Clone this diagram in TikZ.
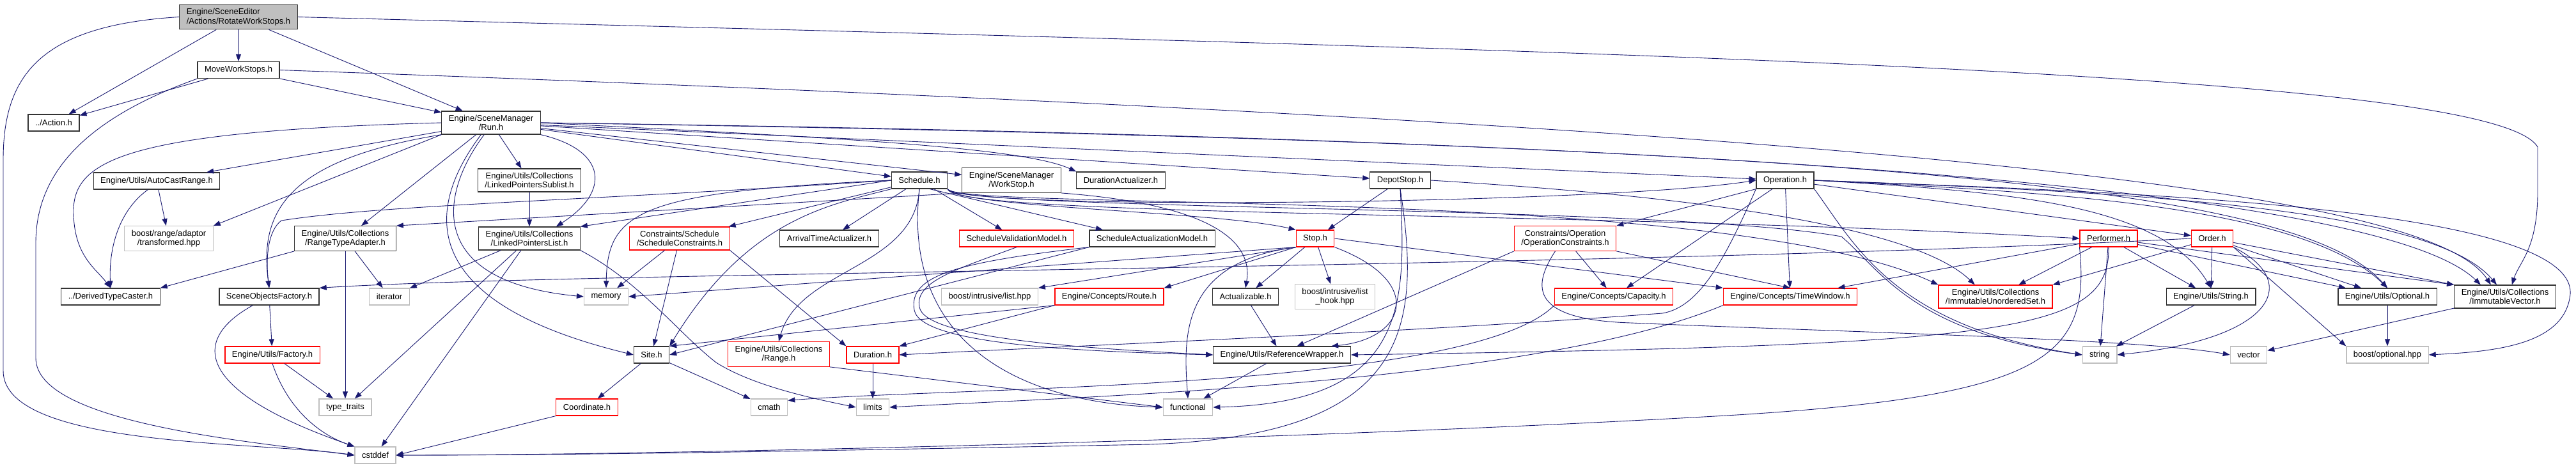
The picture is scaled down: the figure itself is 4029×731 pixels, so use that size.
\documentclass[tikz,border=0pt]{standalone}
\usepackage{fontspec}
\setmainfont{Liberation Sans}
\usepackage{xcolor}
\usepackage{tikz}
\usetikzlibrary{arrows.meta}
\definecolor{edgecol}{HTML}{191970}
\definecolor{extgray}{HTML}{BFBFBF}

\begin{document}
\begin{tikzpicture}[x=1pt, y=-1pt,
  hfile/.style={draw=black!80, line width=1.2pt, fill=white, minimum height=26pt, inner xsep=11pt, inner ysep=6pt, align=center, font=\fontsize{13}{14.5}\selectfont},
  extfile/.style={hfile, draw=extgray},
  redfile/.style={hfile, draw=red},
  rootfile/.style={hfile, fill=extgray, align=left},
  arr/.style={-{Triangle[length=11pt,width=8pt]}, line width=0.9pt, edgecol}
]
  \useasboundingbox (0,0) rectangle (4029,731);

  \node[rootfile] (root) at (373,26.5) {Engine/SceneEditor\\/Actions/RotateWorkStops.h};
  \node[hfile] (move) at (373,109.5) {MoveWorkStops.h};
  \node[hfile] (action) at (84,192) {../Action.h};
  \node[hfile] (run) at (768,192) {Engine/SceneManager\\/Run.h};

  \node[hfile] (autocast) at (245,283) {Engine/Utils/AutoCastRange.h};
  \node[hfile] (sublist) at (828,282) {Engine/Utils/Collections\\/LinkedPointersSublist.h};
  \node[hfile] (sched) at (1438,282) {Schedule.h};
  \node[hfile] (workstop) at (1582,282) {Engine/SceneManager\\/WorkStop.h};
  \node[hfile] (duract) at (1753,282) {DurationActualizer.h};
  \node[hfile] (depot) at (2190,282) {DepotStop.h};
  \node[hfile] (oper) at (2792,282) {Operation.h};

  \node[extfile] (transformed) at (264,373) {boost/range/adaptor\\/transformed.hpp};
  \node[hfile] (rangeadapt) at (540,373) {Engine/Utils/Collections\\/RangeTypeAdapter.h};
  \node[hfile] (ptrlist) at (828,373) {Engine/Utils/Collections\\/LinkedPointersList.h};
  \node[redfile] (schedcons) at (1063,373) {Constraints/Schedule\\/ScheduleConstraints.h};
  \node[hfile] (arrival) at (1297,373) {ArrivalTimeActualizer.h};
  \node[redfile] (validation) at (1590,373) {ScheduleValidationModel.h};
  \node[hfile] (actmodel) at (1802,373) {ScheduleActualizationModel.h};
  \node[redfile] (stop) at (2057,373) {Stop.h};
  \node[redfile] (opcons) at (2448,373) {Constraints/Operation\\/OperationConstraints.h};
  \node[redfile] (performer) at (3298,373) {Performer.h};
  \node[redfile] (order) at (3460,373) {Order.h};

  \node[hfile] (caster) at (173,464) {../DerivedTypeCaster.h};
  \node[hfile] (sofactory) at (421,464) {SceneObjectsFactory.h};
  \node[extfile] (iterator) at (609,464) {iterator};
  \node[extfile] (memory) at (948,464) {memory};
  \node[extfile] (listhpp) at (1548,464) {boost/intrusive/list.hpp};
  \node[redfile] (route) at (1735,464) {Engine/Concepts/Route.h};
  \node[hfile] (actualizable) at (1948,464) {Actualizable.h};
  \node[extfile] (listhook) at (2088,464) {boost/intrusive/list\\\_hook.hpp};
  \node[redfile] (capacity) at (2524,464) {Engine/Concepts/Capacity.h};
  \node[redfile] (timewin) at (2800,464) {Engine/Concepts/TimeWindow.h};
  \node[redfile] (uset) at (3121,464) {Engine/Utils/Collections\\/ImmutableUnorderedSet.h};
  \node[hfile] (strh) at (3458,464) {Engine/Utils/String.h};
  \node[hfile] (optional) at (3734,464) {Engine/Utils/Optional.h};
  \node[hfile] (ivector) at (3918,464) {Engine/Utils/Collections\\/ImmutableVector.h};

  \node[redfile] (factory) at (426,555) {Engine/Utils/Factory.h};
  \node[hfile] (site) at (1019,555) {Site.h};
  \node[redfile] (range) at (1218,554) {Engine/Utils/Collections\\/Range.h};
  \node[redfile] (duration) at (1365,555) {Duration.h};
  \node[hfile] (refwrap) at (2005,555) {Engine/Utils/ReferenceWrapper.h};
  \node[extfile] (string) at (3284,555) {string};
  \node[extfile] (vector) at (3517,555) {vector};
  \node[extfile] (boostopt) at (3734,555) {boost/optional.hpp};

  \node[extfile] (traits) at (540,637) {type\_traits};
  \node[redfile] (coord) at (918,637) {Coordinate.h};
  \node[extfile] (cmath) at (1203,637) {cmath};
  \node[extfile] (limits) at (1365,637) {limits};
  \node[extfile] (functional) at (1858,637) {functional};

  \node[extfile] (cstddef) at (587,712) {cstddef};

  \draw[arr] (root) -- (action);
  \draw[arr] (root) -- (move);
  \draw[arr] (root) -- (run);
  \draw[arr] (root.west) .. controls (60,40) and (5,120) .. (5,250) -- (5,580) .. controls (5,700) and (400,690) .. (cstddef.west);
  \draw[arr] (root.east) .. controls (2500,80) and (3900,110) .. (3969,230) -- (3969,300) .. controls (3969,390) and (3940,410) .. (ivector.60);

  \draw[arr] (move) -- (action);
  \draw[arr] (move) -- (run);
  \draw[arr] (move.south west) .. controls (150,180) and (56,260) .. (56,380) -- (56,560) .. controls (56,660) and (380,690) .. (cstddef.west);
  \draw[arr] (move.east) .. controls (3000,200) and (3800,300) .. (ivector.140);

  \draw[arr] (run) -- (autocast);
  \draw[arr] (run.south west) -- (transformed.north east);
  \draw[arr] (run.west) .. controls (200,205) and (115,250) .. (115,330) .. controls (115,400) and (150,420) .. (caster.north);
  \draw[arr] (run) -- (rangeadapt);
  \draw[arr] (run.south west) .. controls (450,250) and (405,330) .. (sofactory.north);
  \draw[arr] (run) -- (sublist);
  \draw[arr] (run.south east) .. controls (950,235) and (955,300) .. (ptrlist.24);
  \draw[arr] (run.240) .. controls (690,300) and (660,440) .. (memory.west);
  \draw[arr] (run.230) .. controls (670,320) and (640,470) .. (site.west);
  \draw[arr] (run) -- (sched);
  \draw[arr] (run) -- (workstop);
  \draw[arr] (run.east) .. controls (1300,215) and (1600,230) .. (duract.north west);
  \draw[arr] (run) -- (depot);
  \draw[arr] (run) -- (oper);
  \draw[arr] (run.east) .. controls (3000,220) and (3750,320) .. (ivector.154);
  \draw[arr] (run.east) .. controls (3000,225) and (3600,300) .. (optional.north);

  \draw[arr] (autocast) -- (transformed);
  \draw[arr] (autocast.225) .. controls (185,330) and (170,390) .. (caster.north);
  \draw[arr] (sublist) -- (ptrlist);
  \draw[arr] (ptrlist) -- (iterator);
  \draw[arr] (ptrlist) -- (traits);
  \draw[arr] (ptrlist) -- (cstddef);
  \draw[arr] (ptrlist.south east) .. controls (1000,440) and (1060,520) .. (1120,567) .. controls (1180,605) and (1280,625) .. (limits.west);
  \draw[arr] (rangeadapt.south west) -- (caster.north east);
  \draw[arr] (rangeadapt) -- (traits);
  \draw[arr] (rangeadapt) -- (iterator);

  \draw[arr] (sched.west) -- (ptrlist.north east);
  \draw[arr] (sched.west) .. controls (900,315) and (600,320) .. (440,345) .. controls (420,360) and (415,400) .. (sofactory.north);
  \draw[arr] (sched) -- (schedcons);
  \draw[arr] (sched) -- (arrival);
  \draw[arr] (sched) -- (validation);
  \draw[arr] (sched.320) -- (actmodel.170);
  \draw[arr] (sched.west) .. controls (1000,300) and (950,330) .. (memory.north);
  \draw[arr] (sched.south west) .. controls (1300,320) and (1170,340) .. (site.north east);
  \draw[arr] (sched.south) .. controls (1430,420) and (1250,420) .. (range.north);
  \draw[arr] (sched.south) .. controls (1410,540) and (1600,630) .. (functional.west);
  \draw[arr] (sched.south east) .. controls (1500,325) and (1900,330) .. (stop.north west);
  \draw[arr] (sched.south east) .. controls (1500,330) and (2500,320) .. (oper.west);
  \draw[arr] (sched.south east) .. controls (1490,340) and (2500,330) .. (performer.west);
  \draw[arr] (sched.south east) .. controls (1500,330) and (2700,290) .. (uset.north west);
  \draw[arr] (sched.south east) .. controls (1500,330) and (2600,320) .. (2880,370) .. controls (2940,420) and (2990,520) .. (string.west);

  \draw[arr] (workstop.south west) -- (rangeadapt.north east);
  \draw[arr] (workstop.south east) .. controls (1900,320) and (1960,380) .. (actualizable.north);

  \draw[arr] (depot) -- (stop);
  \draw[arr] (depot.south) .. controls (2200,480) and (2200,630) .. (functional.east);
  \draw[arr] (depot.south) .. controls (2225,520) and (2200,680) .. (1800,695) .. controls (1300,705) and (900,712) .. (cstddef.east);
  \draw[arr] (depot.east) .. controls (2700,310) and (3000,360) .. (uset.150);

  \draw[arr] (oper.south west) -- (opcons.north east);
  \draw[arr] (oper) -- (capacity);
  \draw[arr] (oper) -- (timewin);
  \draw[arr] (oper) -- (order);
  \draw[arr] (oper.south west) .. controls (2700,400) and (2660,480) .. (2600,490) .. controls (2200,520) and (1700,540) .. (duration.east);
  \draw[arr] (oper.south east) .. controls (2900,380) and (2960,510) .. (string.west);
  \draw[arr] (oper.east) .. controls (3150,300) and (3380,320) .. (strh.north);
  \draw[arr] (oper.east) .. controls (3200,300) and (3600,320) .. (optional.north);
  \draw[arr] (oper.east) .. controls (3300,300) and (3800,320) .. (ivector.125);
  \draw[arr] (oper.east) .. controls (3300,300) and (4029,320) .. (4020,460) .. controls (4012,540) and (3900,550) .. (boostopt.east);

  \draw[arr] (schedcons) -- (memory);
  \draw[arr] (schedcons) -- (site);
  \draw[arr] (schedcons.south east) -- (duration.north west);
  \draw[arr] (validation.south) .. controls (1500,420) and (1430,440) .. (1438,480) .. controls (1445,530) and (1700,545) .. (refwrap.west);
  \draw[arr] (actmodel.south west) .. controls (1500,410) and (1420,430) .. (1430,485) .. controls (1440,540) and (1700,550) .. (refwrap.west);
  \draw[arr] (actmodel.south west) -- (site.east);

  \draw[arr] (stop) -- (actualizable);
  \draw[arr] (stop) -- (listhook);
  \draw[arr] (stop.south west) -- (route.north east);
  \draw[arr] (stop.south west) -- (listhpp.north east);
  \draw[arr] (stop.south west) -- (memory.east);
  \draw[arr] (stop.east) -- (timewin.north west);
  \draw[arr] (stop.south east) .. controls (2230,440) and (2200,530) .. (refwrap.10);
  \draw[arr] (stop.south west) .. controls (1850,410) and (1850,520) .. (functional.north);

  \draw[arr] (opcons) -- (capacity);
  \draw[arr] (opcons.south west) -- (refwrap.30);
  \draw[arr] (opcons.south east) -- (timewin.north);
  \draw[arr] (opcons.232) .. controls (2395,450) and (2395,500) .. (2550,505) .. controls (2900,520) and (3350,530) .. (vector.west);

  \draw[arr] (performer) -- (timewin);
  \draw[arr] (performer) -- (uset);
  \draw[arr] (performer) -- (strh);
  \draw[arr] (performer) -- (optional);
  \draw[arr] (performer) -- (ivector.north west);
  \draw[arr] (performer) -- (string);
  \draw[arr] (performer.south) .. controls (3300,520) and (3150,540) .. (refwrap.east);
  \draw[arr] (performer.south west) .. controls (3270,560) and (3200,620) .. (2700,650) .. controls (2000,690) and (1000,712) .. (cstddef.east);

  \draw[arr] (order) -- (strh);
  \draw[arr] (order) -- (optional);
  \draw[arr] (order) -- (ivector.north west);
  \draw[arr] (order) -- (uset.north east);
  \draw[arr] (order.south east) -- (boostopt.north west);
  \draw[arr] (order.south east) .. controls (3600,440) and (3560,530) .. (string.east);
  \draw[arr] (order.west) .. controls (2500,420) and (900,425) .. (sofactory.north east);

  \draw[arr] (route.south west) -- (site.north east);
  \draw[arr] (route.south west) -- (duration.north east);
  \draw[arr] (actualizable) -- (refwrap);
  \draw[arr] (capacity.south west) .. controls (2300,610) and (1500,605) .. (cmath.20);
  \draw[arr] (timewin.south west) .. controls (2400,600) and (1700,620) .. (limits.east);
  \draw[arr] (strh) -- (string);
  \draw[arr] (optional) -- (boostopt);
  \draw[arr] (ivector) -- (vector);

  \draw[arr] (sofactory) -- (factory);
  \draw[arr] (sofactory.208) .. controls (300,530) and (300,610) .. (cstddef.north west);
  \draw[arr] (factory) -- (traits);
  \draw[arr] (factory.south) .. controls (450,640) and (500,680) .. (cstddef.north west);
  \draw[arr] (site) -- (coord);
  \draw[arr] (site) -- (cmath);
  \draw[arr] (coord.south west) -- (cstddef.east);
  \draw[arr] (range.south east) -- (functional.west);
  \draw[arr] (duration) -- (limits);
  \draw[arr] (refwrap) -- (functional);
\end{tikzpicture}
\end{document}
